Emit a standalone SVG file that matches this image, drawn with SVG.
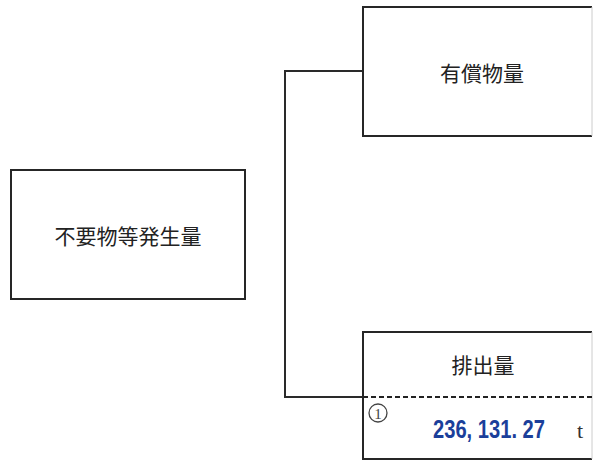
<svg xmlns="http://www.w3.org/2000/svg" width="595" height="462" viewBox="0 0 595 462">
<style>
.box{fill:#fff;stroke:#262626;stroke-width:2}
.lbl{font-family:"Noto Sans CJK JP","Noto Sans CJK SC",sans-serif;font-size:21px;fill:#222;text-anchor:middle;dominant-baseline:central}
.conn{fill:none;stroke:#2a2a2a;stroke-width:2}
</style>
<rect width="595" height="462" fill="#fff"/>
<g id="connectors">
<path class="conn" d="M363,71 H285 V397 H363"/>
</g>
<g id="node-generated">
<rect class="box" x="11" y="170" width="234" height="129"/>
<text class="lbl" x="128" y="235">不要物等発生量</text>
</g>
<g id="node-valuable">
<path class="box" d="M592,7 H363 V136 H592"/>
<line x1="592" y1="7" x2="592" y2="136" stroke="#ccc" stroke-width="1"/>
<text class="lbl" x="482" y="72">有償物量</text>
</g>
<g id="node-emission">
<rect x="405" y="400" width="155" height="59" fill="#eef8ec"/>
<path class="box" d="M592,332 H363 V459 H592" fill="none"/>
<line x1="592" y1="332" x2="592" y2="459" stroke="#ccc" stroke-width="1"/>
<line x1="363" y1="397" x2="595" y2="397" stroke="#222" stroke-width="2" stroke-dasharray="5,3"/>
<text class="lbl" x="483" y="364">排出量</text>
<circle cx="378" cy="413" r="9" fill="none" stroke="#444" stroke-width="1.3"/>
<text x="378" y="418.5" font-family="Liberation Serif,serif" font-size="15" fill="#444" text-anchor="middle">1</text>
<text transform="translate(433,438) scale(0.775,1)" x="0" y="0" font-family="Liberation Sans,sans-serif" font-weight="bold" font-size="26" fill="#1b3f9a">236, 131. 27</text>
<text x="580" y="438" font-family="Liberation Serif,serif" font-size="22" fill="#333" text-anchor="middle">t</text>
</g>
</svg>
